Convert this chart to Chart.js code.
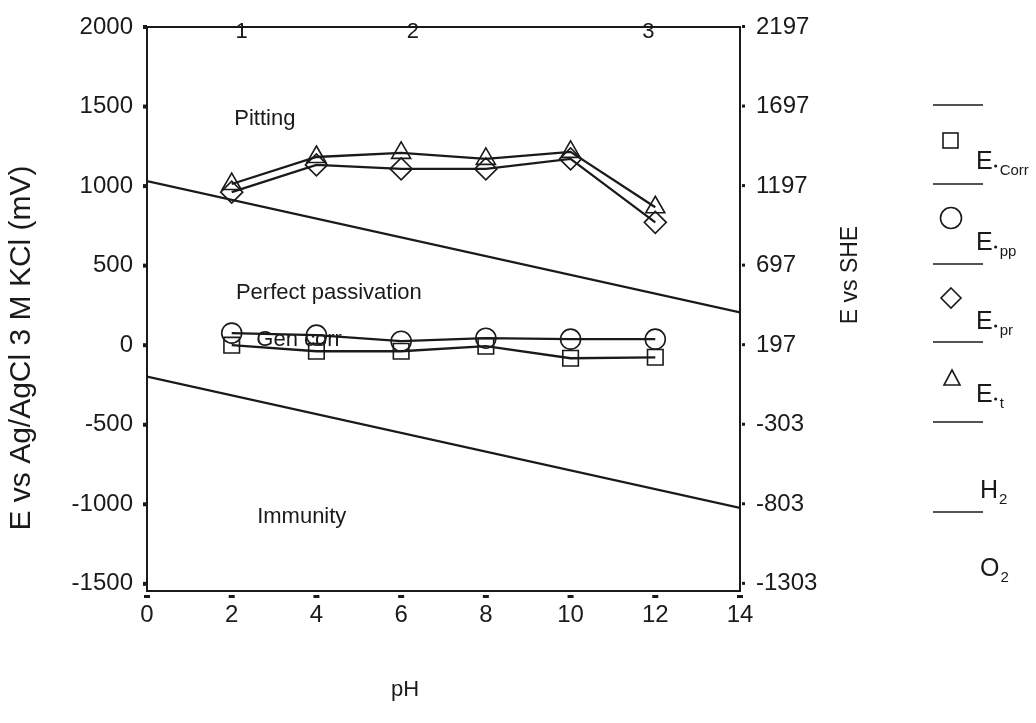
<!DOCTYPE html>
<html>
<head>
<meta charset="utf-8">
<script src="https://cdn.jsdelivr.net/npm/chart.js@4.4.0/dist/chart.umd.min.js"></script>
<style>
  body { margin: 0; background: #fff; }
  canvas { display: block; }
</style>
</head>
<body>
<canvas id="pourbaix" width="1036" height="723"></canvas>
<script>
// pH values where the potentials were measured
var pH = [2, 4, 6, 8, 10, 12];
// potentials, mV vs Ag/AgCl 3 M KCl
var eCorr = [0, -38, -38, -6, -82, -76];
var ePP = [76, 63, 25, 44, 38, 38];
var ePR = [962, 1133, 1108, 1108, 1171, 772];
var eT = [1013, 1183, 1209, 1171, 1215, 867];

// water stability lines, values at pH 0 and pH 14
var lineEnds = [0, 14];
var o2Line = [1032, 206];
var h2Line = [-197, -1023];

// axis ticks
var xTicks = [0, 2, 4, 6, 8, 10, 12, 14];
var leftTicks = [-1500, -1000, -500, 0, 500, 1000, 1500, 2000];
var rightTicks = [-1303, -803, -303, 197, 697, 1197, 1697, 2197];
var sheOffset = 197;

// region labels inside the plot
var regionNames = ['1', '2', '3', 'Pitting', 'Perfect passivation', 'Gen corr', 'Immunity'];
var regionPH = [2.09, 6.13, 11.69, 2.06, 2.1, 2.58, 2.6];
var regionE = [1970, 1970, 1970, 1420, 329, 32, -1082];

var ink = '#1a1a1a';
var font = '"Liberation Sans", Arial, sans-serif';

function pts(xs, ys) {
  return xs.map(function (x, i) { return { x: x, y: ys[i] }; });
}

function series(values, style, r) {
  return {
    data: pts(pH, values),
    borderColor: ink,
    borderWidth: 2.3,
    pointStyle: style,
    pointRadius: r,
    pointBorderWidth: 1.6,
    pointBorderColor: ink,
    pointBackgroundColor: 'rgba(0,0,0,0)',
    tension: 0
  };
}

function straight(values) {
  return {
    data: pts(lineEnds, values),
    borderColor: ink,
    borderWidth: 2.3,
    pointRadius: 0,
    tension: 0
  };
}

function fixedTicks(list) {
  return function (s) { s.ticks = list.map(function (v) { return { value: v }; }); };
}

// frame, tick marks, text labels, axis titles and legend
var decorations = {
  id: 'decorations',
  afterDraw: function (chart) {
    var ctx = chart.ctx;
    var a = chart.chartArea;
    var xs = chart.scales.x, ys = chart.scales.y, y2 = chart.scales.y2;
    ctx.save();
    ctx.strokeStyle = ink;
    ctx.fillStyle = ink;
    ctx.lineWidth = 2;
    ctx.strokeRect(a.left, a.top, a.right - a.left, a.bottom - a.top);

    leftTicks.forEach(function (v) {
      ctx.fillRect(a.left - 4, ys.getPixelForValue(v) - 2, 4, 4);
    });
    rightTicks.forEach(function (v) {
      ctx.fillRect(a.right + 2, y2.getPixelForValue(v) - 2, 3, 3);
    });
    xTicks.forEach(function (v) {
      ctx.fillRect(xs.getPixelForValue(v) - 3, a.bottom + 4, 6, 3);
    });

    ctx.font = '22px ' + font;
    ctx.textBaseline = 'middle';
    ctx.textAlign = 'left';
    regionNames.forEach(function (t, i) {
      ctx.fillText(t, xs.getPixelForValue(regionPH[i]), ys.getPixelForValue(regionE[i]));
    });

    // axis titles
    ctx.textAlign = 'center';
    ctx.fillText('pH', 405, 690);
    ctx.save();
    ctx.translate(22, 348);
    ctx.rotate(-Math.PI / 2);
    ctx.font = '30px ' + font;
    ctx.fillText('E vs Ag/AgCl 3 M KCl (mV)', 0, 0);
    ctx.restore();
    ctx.save();
    ctx.translate(851, 275);
    ctx.rotate(-Math.PI / 2);
    ctx.font = '23px ' + font;
    ctx.fillText('E vs SHE', 0, 0);
    ctx.restore();

    // legend
    ctx.lineWidth = 1.6;
    [105, 184, 264, 342, 422, 512].forEach(function (y) {
      ctx.beginPath();
      ctx.moveTo(933, y);
      ctx.lineTo(983, y);
      ctx.stroke();
    });
    ctx.strokeRect(943, 133, 15, 15);
    ctx.beginPath();
    ctx.arc(951, 218, 10.5, 0, Math.PI * 2);
    ctx.stroke();
    ctx.beginPath();
    ctx.moveTo(951, 288); ctx.lineTo(961, 298); ctx.lineTo(951, 308); ctx.lineTo(941, 298);
    ctx.closePath();
    ctx.stroke();
    ctx.beginPath();
    ctx.moveTo(952, 370); ctx.lineTo(960, 385); ctx.lineTo(944, 385);
    ctx.closePath();
    ctx.stroke();

    var entries = [['Corr', 162], ['pp', 243], ['pr', 322], ['t', 395]];
    entries.forEach(function (e) {
      ctx.textAlign = 'left';
      ctx.font = '25px ' + font;
      ctx.fillText('E', 976, e[1]);
      var w = ctx.measureText('E').width;
      ctx.beginPath();
      ctx.arc(976 + w + 3, e[1] + 4, 1.6, 0, Math.PI * 2);
      ctx.fill();
      ctx.font = '15px ' + font;
      ctx.fillText(e[0], 976 + w + 7, e[1] + 9);
    });
    [['H', 491], ['O', 569]].forEach(function (e) {
      ctx.font = '25px ' + font;
      ctx.fillText(e[0], 980, e[1]);
      var w = ctx.measureText(e[0]).width;
      ctx.font = '15px ' + font;
      ctx.fillText('2', 980 + w + 1, e[1] + 9);
    });
    ctx.restore();
  }
};

var tickFont = { family: font, size: 24 };
function plain(v) { return String(v); }

new Chart(document.getElementById('pourbaix'), {
  type: 'line',
  data: {
    datasets: [
      straight(o2Line),
      straight(h2Line),
      series(eCorr, 'rect', 11),
      series(ePP, 'circle', 10),
      series(ePR, 'rectRot', 11),
      series(eT, 'triangle', 11)
    ]
  },
  options: {
    responsive: false,
    animation: false,
    events: [],
    layout: { padding: { left: 5, right: 186, top: 27, bottom: 72 } },
    plugins: { legend: { display: false }, tooltip: { enabled: false } },
    scales: {
      x: {
        type: 'linear',
        min: 0,
        max: 14,
        afterBuildTicks: fixedTicks(xTicks),
        afterFit: function (s) { s.height = 60; },
        grid: { display: false },
        border: { display: false },
        ticks: { color: ink, font: tickFont, padding: 2, maxRotation: 0, callback: plain }
      },
      y: {
        position: 'left',
        min: -1545,
        max: 2000,
        afterBuildTicks: fixedTicks(leftTicks),
        afterFit: function (s) { s.width = 142; },
        grid: { display: false },
        border: { display: false },
        ticks: { color: ink, font: tickFont, padding: 6, callback: plain }
      },
      y2: {
        position: 'right',
        min: -1545 + sheOffset,
        max: 2000 + sheOffset,
        afterBuildTicks: fixedTicks(rightTicks),
        afterFit: function (s) { s.width = 110; },
        grid: { display: false },
        border: { display: false },
        ticks: { color: ink, font: tickFont, padding: 8, callback: plain }
      }
    }
  },
  plugins: [decorations]
});
</script>
</body>
</html>
